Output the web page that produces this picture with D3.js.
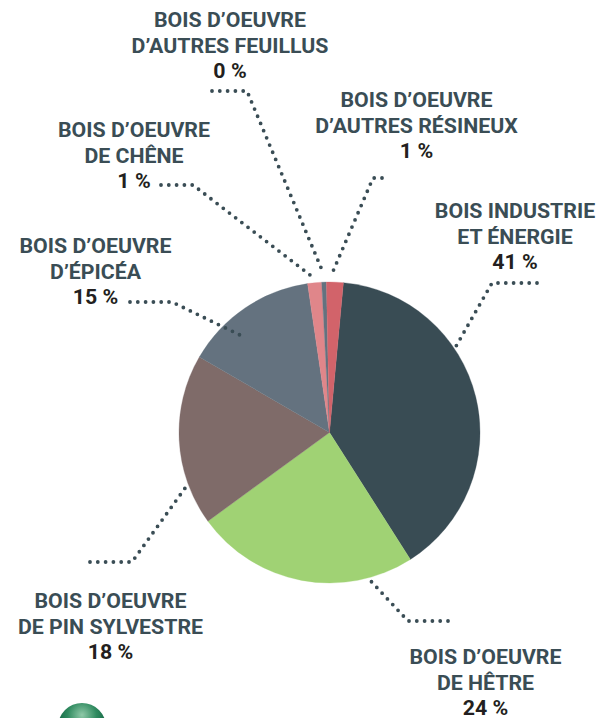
<!DOCTYPE html>
<html><head><meta charset="utf-8">
<script src="https://cdn.jsdelivr.net/npm/d3@7/dist/d3.min.js"></script>
<style>html,body{margin:0;padding:0;background:#fff;overflow:hidden}svg{display:block}
text{font-family:Roboto,"Liberation Sans",sans-serif;font-weight:700;text-anchor:middle}</style>
</head><body><svg id="c" width="597" height="718"></svg>
<script>
const categories=["BOIS INDUSTRIE|ET ÉNERGIE","BOIS D’OEUVRE|DE HÊTRE","BOIS D’OEUVRE|DE PIN SYLVESTRE","BOIS D’OEUVRE|D’ÉPICÉA","BOIS D’OEUVRE|DE CHÊNE","BOIS D’OEUVRE|D’AUTRES FEUILLUS","BOIS D’OEUVRE|D’AUTRES RÉSINEUX"];
const percentLabels=[41,24,18,15,1,0,1];
const drawnShares=[39.5,24,18.4,14.3,1.5,0.5,1.8];
const colors=["#394c54","#a0d274","#7f6b69","#64727f","#e0868a","#64727f","#d2636a"];
const labelAnchors=[[515,218],[485.5,664],[110.5,608],[95.5,253],[134,137],[230,27],[416.5,107]];
const leaders=[
 [[537,283],[492,283],[455,348]],
 [[448,621],[408,621],[368,578]],
 [[90,562],[132,562],[188,484]],
 [[130,302],[172,302],[242,336]],
 [[161,185],[193,185],[314,278]],
 [[212,91],[247,91],[322,270]],
 [[382,178],[373,178],[331,276]]
];
const svg=d3.select("#c");
const cx=329.5,cy=432.5,r=150.5;
const startDeg=5.3;
const pie=d3.pie().sort(null).startAngle(startDeg*Math.PI/180).endAngle((startDeg+360)*Math.PI/180);
const arc=d3.arc().innerRadius(0).outerRadius(r);
svg.append("g").attr("transform",`translate(${cx},${cy})`)
 .selectAll("path").data(pie(drawnShares)).join("path")
 .attr("d",arc).attr("fill",(d,i)=>colors[i]).attr("stroke",(d,i)=>colors[i]).attr("stroke-width",0.3);
const line=d3.line();
svg.append("g").selectAll("path").data(leaders).join("path")
 .attr("d",line).attr("fill","none").attr("stroke","#3a4d55")
 .attr("stroke-width",3.8).attr("stroke-linecap","round").attr("stroke-dasharray","0 7.8");
const g=svg.append("g");
categories.forEach((c,i)=>{
 const [x,y]=labelAnchors[i];
 c.split("|").forEach((t,j)=>{
  g.append("text").attr("transform",`translate(${x},${y+j*25.5}) scale(1.04,1)`)
   .attr("font-size",20.5).attr("fill","#3a4d55").text(t);
 });
 g.append("text").attr("transform",`translate(${x},${y+51}) scale(1.04,1)`)
  .attr("font-size",20.5).attr("fill","#231f20").text(percentLabels[i]+" %");
});
const defs=svg.append("defs");
const grad=defs.append("radialGradient").attr("id","logo").attr("cx","0.5").attr("cy","0.25").attr("r","0.6");
grad.append("stop").attr("offset","0").attr("stop-color","#8fc9a8");
grad.append("stop").attr("offset","0.5").attr("stop-color","#2f8a5f");
grad.append("stop").attr("offset","1").attr("stop-color","#0b5a3a");
svg.append("circle").attr("cx",82).attr("cy",727).attr("r",24).attr("fill","url(#logo)");
</script></body></html>
